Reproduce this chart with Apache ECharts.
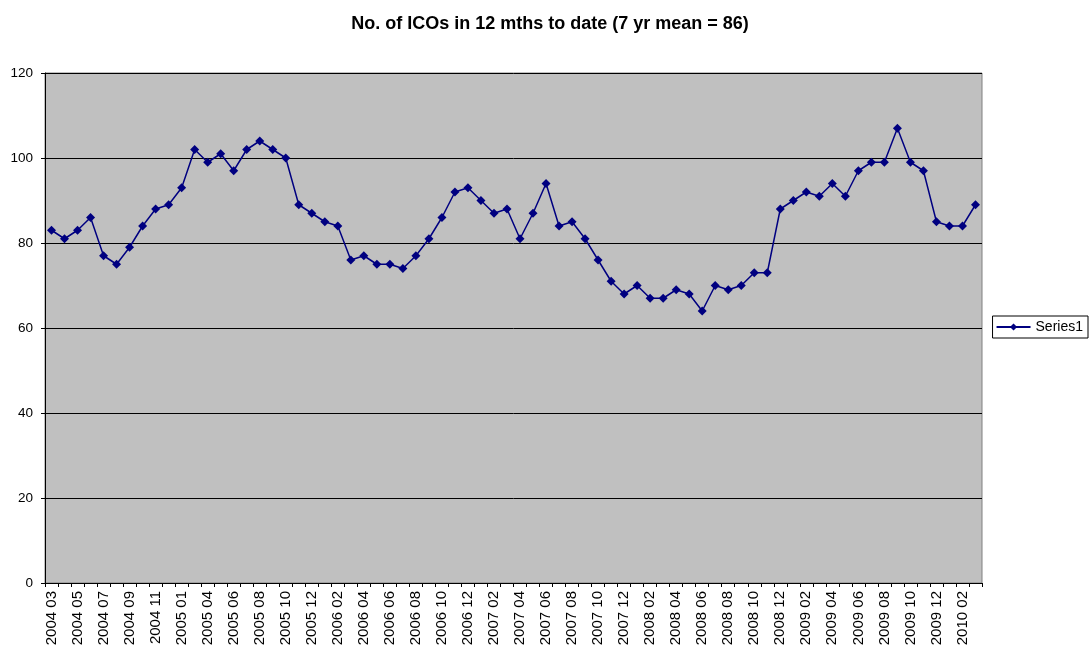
<!DOCTYPE html>
<html><head><meta charset="utf-8">
<script src="https://cdn.jsdelivr.net/npm/echarts@6/dist/echarts.min.js"></script>
<style>html,body{margin:0;padding:0;background:#fff}#c{width:1090px;height:647px}</style>
</head><body><div id="c"></div>
<script>
const categories = ["2004 03","2004 04","2004 05","2004 06","2004 07","2004 08","2004 09","2004 10","2004 11","2004 12",
"2005 01","2005 02","2005 04","2005 05","2005 06","2005 07","2005 08","2005 09","2005 10","2005 11","2005 12",
"2006 01","2006 02","2006 03","2006 04","2006 05","2006 06","2006 07","2006 08","2006 09","2006 10","2006 11","2006 12",
"2007 01","2007 02","2007 03","2007 04","2007 05","2007 06","2007 07","2007 08","2007 09","2007 10","2007 11","2007 12",
"2008 01","2008 02","2008 03","2008 04","2008 05","2008 06","2008 07","2008 08","2008 09","2008 10","2008 11","2008 12",
"2009 01","2009 02","2009 03","2009 04","2009 05","2009 06","2009 07","2009 08","2009 09","2009 10","2009 11","2009 12",
"2010 01","2010 02","2010 03"];
const series1 = [83,81,83,86,77,75,79,84,88,89,
93,102,99,101,97,102,104,102,100,89,87,
85,84,76,77,75,75,74,77,81,86,92,93,
90,87,88,81,87,94,84,85,81,76,71,68,
70,67,67,69,68,64,70,69,70,73,73,88,
90,92,91,94,91,97,99,99,107,99,97,85,
84,84,89];
const yTicks = [0,20,40,60,80,100,120];
const chart = echarts.init(document.getElementById('c'));
const F = 'Liberation Sans, Arial, sans-serif';
chart.setOption({
  animation:false,
  backgroundColor:'#ffffff',
  title:{text:'No. of ICOs in 12 mths to date (7 yr mean = 86)',left:545,top:10,textAlign:'center',
    textStyle:{fontFamily:F,fontSize:18,fontWeight:'bold',color:'#000'}},
  grid:{left:45,right:108,top:73,bottom:64,containLabel:false,outerBoundsMode:'none',show:true,backgroundColor:'#c0c0c0',borderColor:'#808080',borderWidth:1},
  legend:{show:true,right:2,top:316,orient:'vertical',borderColor:'#000',borderWidth:1,padding:[4,5,4,3],
    itemWidth:34,itemHeight:9,itemGap:0,textStyle:{fontFamily:F,fontSize:14,color:'#000'}},
  xAxis:{type:'category',data:categories,boundaryGap:true,
    axisLine:{lineStyle:{color:'#000',width:1}},
    axisTick:{show:true,interval:0,length:4,lineStyle:{color:'#000'}},
    axisLabel:{interval:1,rotate:90,fontFamily:F,fontSize:15,color:'#000',margin:8},
    splitLine:{show:false}},
  yAxis:{type:'value',min:0,max:120,interval:20,
    axisLine:{show:true,lineStyle:{color:'#000'}},
    axisTick:{show:true,length:4,lineStyle:{color:'#000'}},
    axisLabel:{fontFamily:F,fontSize:13.5,color:'#000',margin:12,
      formatter:v=>yTicks.includes(v)?String(v):''},
    splitLine:{show:true,lineStyle:{color:'#000',width:1}}},
  series:[{name:'Series1',type:'line',data:series1,symbol:'diamond',symbolSize:9,showAllSymbol:true,
    lineStyle:{color:'#000080',width:1.5},itemStyle:{color:'#000080'}}]
});
</script></body></html>
